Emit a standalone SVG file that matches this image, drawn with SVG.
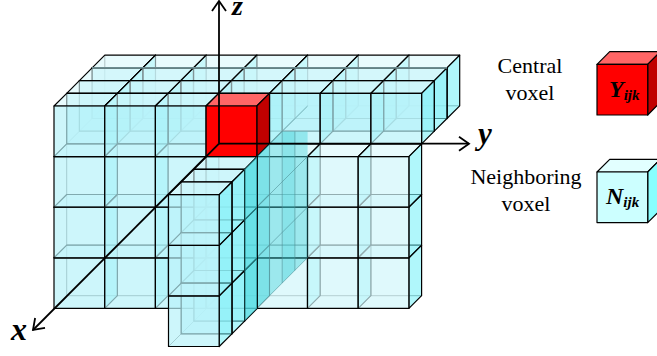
<svg xmlns="http://www.w3.org/2000/svg" width="657" height="356" viewBox="0 0 657 356">
<style>
.e{stroke:#000;stroke-width:1.2;stroke-linejoin:round}
.h{fill:none;stroke:#000;stroke-opacity:.55;stroke-width:1}
.f{fill:#B8F2F9;fill-opacity:.7}
.g{fill:#D2F6FB;fill-opacity:.7}
.t{fill:#D8F8FC;fill-opacity:.6}
.r{fill:#7CF2F9;fill-opacity:.6}
.w{stroke:#4F8F96;stroke-opacity:.6;stroke-width:1}
.d1{fill:#40D2D8;fill-opacity:.55}
.d2{fill:#40D2D8;fill-opacity:.42}
.b{stroke:none}
.ax{fill:none;stroke:#000;stroke-width:1.8}
.lb{font-family:"Liberation Serif",serif;font-size:22px;fill:#000;text-anchor:middle}
.v{font-family:"Liberation Serif",serif;font-weight:bold;font-style:italic;fill:#000}
</style>
<defs>
<g id="c">
<path class="h" d="M12.7 -12.7V37.9H63.4M0 50.6L12.7 37.9"/>
<path class="t e" d="M0 0L12.7 -12.7H63.4L50.7 0Z"/>
<path class="r e" d="M50.7 0L63.4 -12.7V37.9L50.7 50.6Z"/>
<rect class="f e" width="50.7" height="50.6"/>
</g>
<g id="l">
<path class="h" d="M12.7 -12.7V37.9H63.4M0 50.6L12.7 37.9"/>
<path class="t e" d="M0 0L12.7 -12.7H63.4L50.7 0Z"/>
<path class="r e" d="M50.7 0L63.4 -12.7V37.9L50.7 50.6Z"/>
<rect class="g e" width="50.7" height="50.6"/>
</g>
<marker id="a" markerUnits="userSpaceOnUse" markerWidth="20" markerHeight="20" refX="13" refY="10" orient="auto">
<path d="M3 3L13 10L3 17" fill="none" stroke="#000" stroke-width="1.8"/>
</marker>
</defs>
<g id="grid">
<use href="#c" x="92.1" y="67.9"/><use href="#c" x="142.8" y="67.9"/><use href="#c" x="193.5" y="67.9"/><use href="#c" x="244.2" y="67.9"/><use href="#c" x="294.9" y="67.9"/><use href="#c" x="345.6" y="67.9"/><use href="#c" x="396.3" y="67.9"/>
<use href="#c" x="79.4" y="80.6"/><use href="#c" x="130.1" y="80.6"/><use href="#c" x="180.8" y="80.6"/><use href="#c" x="231.5" y="80.6"/><use href="#c" x="282.2" y="80.6"/><use href="#c" x="332.9" y="80.6"/><use href="#c" x="383.6" y="80.6"/>
<use href="#c" x="66.7" y="93.3"/><use href="#c" x="117.4" y="93.3"/><use href="#c" x="168.1" y="93.3"/><use href="#c" x="218.8" y="93.3"/><use href="#c" x="269.5" y="93.3"/><use href="#c" x="320.2" y="93.3"/><use href="#c" x="370.9" y="93.3"/>
<path d="M92 67.9H447" stroke="#6C8C90" stroke-width="1.6" fill="none"/>
<use href="#c" x="54" y="257.8"/><use href="#c" x="54" y="207.2"/><use href="#c" x="54" y="156.6"/><use href="#c" x="54" y="106"/>
<use href="#c" x="104.7" y="257.8"/><use href="#c" x="104.7" y="207.2"/><use href="#c" x="104.7" y="156.6"/><use href="#c" x="104.7" y="106"/>
<use href="#c" x="155.4" y="257.8"/><use href="#c" x="155.4" y="207.2"/><use href="#c" x="155.4" y="156.6"/><use href="#c" x="155.4" y="106"/>
<use href="#c" x="206.1" y="257.8"/><use href="#c" x="206.1" y="207.2"/><use href="#c" x="206.1" y="156.6"/>
</g>
<g id="central-voxel">
<path class="e" fill="#FF6666" d="M206.1 106L218.8 93.3H269.5L256.8 106Z"/>
<path class="e" fill="#C00000" d="M256.8 106L269.5 93.3V143.9L256.8 156.6Z"/>
<rect class="e" fill="#FF0000" x="206.1" y="106" width="50.7" height="50.6"/>
</g>
<g id="grid-front">
<use href="#l" x="256.8" y="257.8"/><use href="#l" x="256.8" y="207.2"/><use href="#l" x="256.8" y="156.6"/>
<use href="#l" x="307.5" y="257.8"/><use href="#l" x="307.5" y="207.2"/><use href="#l" x="307.5" y="156.6"/>
<use href="#l" x="358.2" y="257.8"/><use href="#l" x="358.2" y="207.2"/><use href="#l" x="358.2" y="156.6"/>
</g>
<g id="wall">
<path class="d1 b" d="M256.8 156.6L269.5 143.9V295.7L256.8 308.4Z"/>
<path class="d2 b" d="M269.5 143.9L282.2 131.4V283L269.5 295.7Z"/>
<path class="d1 b" d="M282.2 131.4H294.9V270.3L282.2 283Z"/>
<path class="d2 b" d="M294.9 131.4H307.6V257.6L294.9 270.3Z"/>
<path class="w" fill="none" d="M269.5 143.9V295.7M282.2 131.4V283M294.9 131.4V270.3M256.8 308.4L307.6 257.6M256.8 257.8L307.6 207M256.8 207.2L307.6 156.4M269.5 143.9L307.6 106"/>
</g>
<g id="column">
<use href="#c" x="193.9" y="270.5"/><use href="#c" x="193.9" y="219.9"/><use href="#c" x="193.9" y="169.3"/>
<use href="#c" x="181.2" y="283.2"/><use href="#c" x="181.2" y="232.6"/><use href="#c" x="181.2" y="182"/>
<use href="#c" x="168.5" y="295.9"/><use href="#c" x="168.5" y="245.3"/><use href="#c" x="168.5" y="194.7"/>
<path class="d1 b" d="M244.5 169.2L257 156.6V308.4L244.5 321Z"/>
</g>
<g id="connectors">
<path class="ax" d="M219 143.7V1" marker-end="url(#a)"/>
<path class="ax" d="M219 143.7H469" marker-end="url(#a)"/>
<path class="ax" d="M219 143.7L33 330" marker-end="url(#a)"/>
</g>
<g id="axis-labels">
<text class="v" x="232" y="15" font-size="28">z</text>
<text class="v" x="478" y="144" font-size="31">y</text>
<text class="v" x="11" y="340" font-size="32">x</text>
</g>
<g id="legend-central">
<text class="lb" x="530" y="73">Central</text>
<text class="lb" x="530" y="100">voxel</text>
<path class="e" fill="#FF6666" d="M597 64.4L609.7 51.7H660.4L647.7 64.4Z"/>
<path class="e" fill="#C00000" d="M647.7 64.4L660.4 51.7V102.3L647.7 115Z"/>
<rect class="e" fill="#FF0000" x="597" y="64.4" width="50.7" height="50.6"/>
<text class="v" x="609" y="97" font-size="24">Y<tspan font-size="15" dy="3">ijk</tspan></text>
</g>
<g id="legend-neighboring">
<text class="lb" x="526" y="184">Neighboring</text>
<text class="lb" x="526" y="211">voxel</text>
<path class="e" fill="#E2FFFF" d="M597 172L609.7 159.3H660.4L647.7 172Z"/>
<path class="e" fill="#88FFFF" d="M647.7 172L660.4 159.3V209.9L647.7 222.6Z"/>
<rect class="e" fill="#CCFFFF" x="597" y="172" width="50.7" height="50.6"/>
<text class="v" x="606" y="204" font-size="24">N<tspan font-size="15" dy="3">ijk</tspan></text>
</g>
</svg>
